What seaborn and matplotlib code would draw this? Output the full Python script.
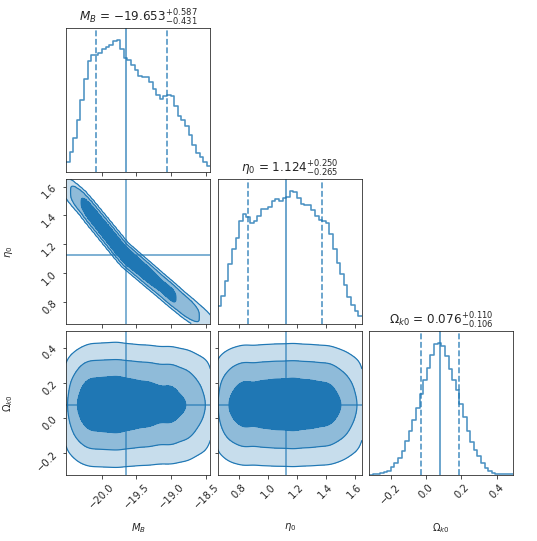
import numpy as np
import pandas as pd
import matplotlib
matplotlib.use("Agg")
import matplotlib.pyplot as plt
import seaborn as sns

# ------------------------------------------------------------------ #
# Corner plot of the M_B / eta_0 / Omega_k0 posterior
# ------------------------------------------------------------------ #

names = [r"$M_B$", r"$\eta_0$", r"$\Omega_{k0}$"]
medians = [-19.653, 1.124, 0.076]
err_hi = [0.587, 0.250, 0.110]
err_lo = [0.431, 0.265, 0.106]

lims = [(-20.51, -18.44), (0.652, 1.649), (-0.323, 0.495)]
ticks = [[-20.0, -19.5, -19.0, -18.5],
         [0.8, 1.0, 1.2, 1.4, 1.6],
         [-0.2, 0.0, 0.2, 0.4]]

# marginal histograms, 40 bins over the axis range (relative heights)
hist_mb = [30, 60, 102, 155, 217, 279, 334, 350, 350, 357,
           369, 374, 382, 394, 396, 370, 342, 336, 322, 305,
           289, 284, 284, 269, 249, 230, 220, 227, 232, 227,
           197, 167, 157, 139, 112, 82, 59, 47, 32, 20]
hist_eta = [52, 82, 126, 177, 220, 255, 304, 324, 317, 297,
            304, 319, 340, 340, 345, 364, 369, 364, 372, 375,
            392, 390, 372, 355, 350, 350, 337, 320, 307, 304,
            297, 267, 222, 179, 147, 114, 80, 54, 37, 22]
hist_ok = [1, 2, 2, 5, 9, 12, 25, 37, 52, 72,
           102, 132, 164, 199, 240, 282, 320, 357, 389, 394,
           385, 355, 315, 282, 252, 212, 172, 132, 99, 75,
           57, 37, 22, 12, 7, 4, 2, 2, 2, 2]
hists = [hist_mb, hist_eta, hist_ok]

# centre line of the M_B - eta_0 degeneracy and its half-width
ridge_mb = [-20.51, -20.28, -19.67, -18.82, -18.44]
ridge_eta = [1.60, 1.49, 1.13, 0.78, 0.64]
ridge_width = 0.062

blue = "#1f77b4"
fills = ["#c7ddec", "#8fbbd9", "#1f77b4"]
# iso-proportion levels (99.7%, 95%, 68% of the mass inside)
levels = [0.003, 0.05, 0.32, 1]


def centres(k):
    e = np.linspace(lims[k][0], lims[k][1], len(hists[k]) + 1)
    return e, 0.5 * (e[1:] + e[:-1])


def product_grid(a, b):
    _, ca = centres(a)
    _, cb = centres(b)
    return ca, cb, np.outer(hists[a], hists[b]).astype(float)


def ridge_grid():
    _, cm = centres(0)
    ce = np.linspace(lims[1][0], lims[1][1], 120)
    line = np.interp(cm, ridge_mb, ridge_eta)
    d = (ce[None, :] - line[:, None]) / ridge_width
    w = np.array(hist_mb, float)[:, None] * np.exp(-0.5 * d ** 6)
    return cm, ce, w


pairs = {(1, 0): ridge_grid(), (2, 0): product_grid(0, 2), (2, 1): product_grid(1, 2)}


def contour_panel(ax, ca, cb, w, a, b, smooth=1.0):
    # smooth the weight grid with a small gaussian kernel, then draw
    # iso-proportion contours (same definition seaborn's kdeplot uses)
    xa = np.linspace(lims[a][0], lims[a][1], 220)
    xb = np.linspace(lims[b][0], lims[b][1], 220)
    ha = smooth * (ca[1] - ca[0])
    hb = smooth * (cb[1] - cb[0])
    ka = np.exp(-0.5 * ((xa[:, None] - ca[None, :]) / ha) ** 2)
    kb = np.exp(-0.5 * ((xb[:, None] - cb[None, :]) / hb) ** 2)
    dens = ka @ w @ kb.T
    s = np.sort(dens.ravel())[::-1]
    c = np.cumsum(s) / s.sum()
    lv = [s[min(np.searchsorted(c, 1 - q), len(s) - 1)] for q in levels[:-1]]
    ax.contourf(xa, xb, dens.T, levels=lv + [dens.max()], colors=fills)
    ax.contour(xa, xb, dens.T, levels=lv, colors=[blue], linewidths=1.2)


sns.set_style("ticks")
fig, axes = plt.subplots(3, 3, figsize=(537 / 72, 541 / 72), dpi=72)
fig.subplots_adjust(left=0.1229, right=0.9562, bottom=0.122, top=0.9482,
                    wspace=0.05, hspace=0.05)

for i in range(3):
    for j in range(3):
        ax = axes[i, j]
        if j > i:
            ax.axis("off")
            continue
        if i == j:
            edges, cen = centres(i)
            hdf = pd.DataFrame({"x": cen, "w": np.asarray(hists[i], dtype=float)})
            sns.histplot(data=hdf, x="x", weights="w", bins=len(cen),
                         binrange=lims[i], element="step",
                         fill=False, color=blue, alpha=0.8, lw=1.6, ax=ax)
            ax.axvline(medians[i], color=blue, alpha=0.8, lw=1.6)
            for v in (medians[i] - err_lo[i], medians[i] + err_hi[i]):
                ax.axvline(v, color=blue, alpha=0.8, lw=1.6, ls="--")
            ax.set_ylim(0, max(hists[i]) * 1.09)
            ax.set_yticks([])
            ax.set_title(names[i] + r" = $%.3f^{+%.3f}_{-%.3f}$"
                         % (medians[i], err_hi[i], err_lo[i]), fontsize=12)
        else:
            ca, cb, w = pairs[(i, j)]
            sm = 0.6 if (i, j) == (1, 0) else 1.0
            contour_panel(ax, ca, cb, w, j, i, smooth=sm)
            ax.axvline(medians[j], color=blue, alpha=0.7, lw=1.6)
            ax.axhline(medians[i], color=blue, alpha=0.7, lw=1.6)
            ax.plot(medians[j], medians[i], "s", color=blue, alpha=0.6, ms=5)
            ax.set_ylim(lims[i])
            ax.set_yticks(ticks[i])
        ax.set_xlim(lims[j])
        ax.set_xticks(ticks[j])
        ax.set_xlabel("")
        ax.set_ylabel("")
        if i < 2:
            ax.set_xticklabels([])
        else:
            for lab in ax.get_xticklabels():
                lab.set_rotation(45)
            ax.set_xlabel(names[j], fontsize=10)
            ax.xaxis.set_label_coords(0.5, -0.32)
        if i != j:
            if j > 0:
                ax.set_yticklabels([])
            else:
                for lab in ax.get_yticklabels():
                    lab.set_rotation(45)
                ax.set_ylabel(names[i], fontsize=10)
                ax.yaxis.set_label_coords(-0.353, 0.5)

fig.savefig("out.png", dpi=72)
